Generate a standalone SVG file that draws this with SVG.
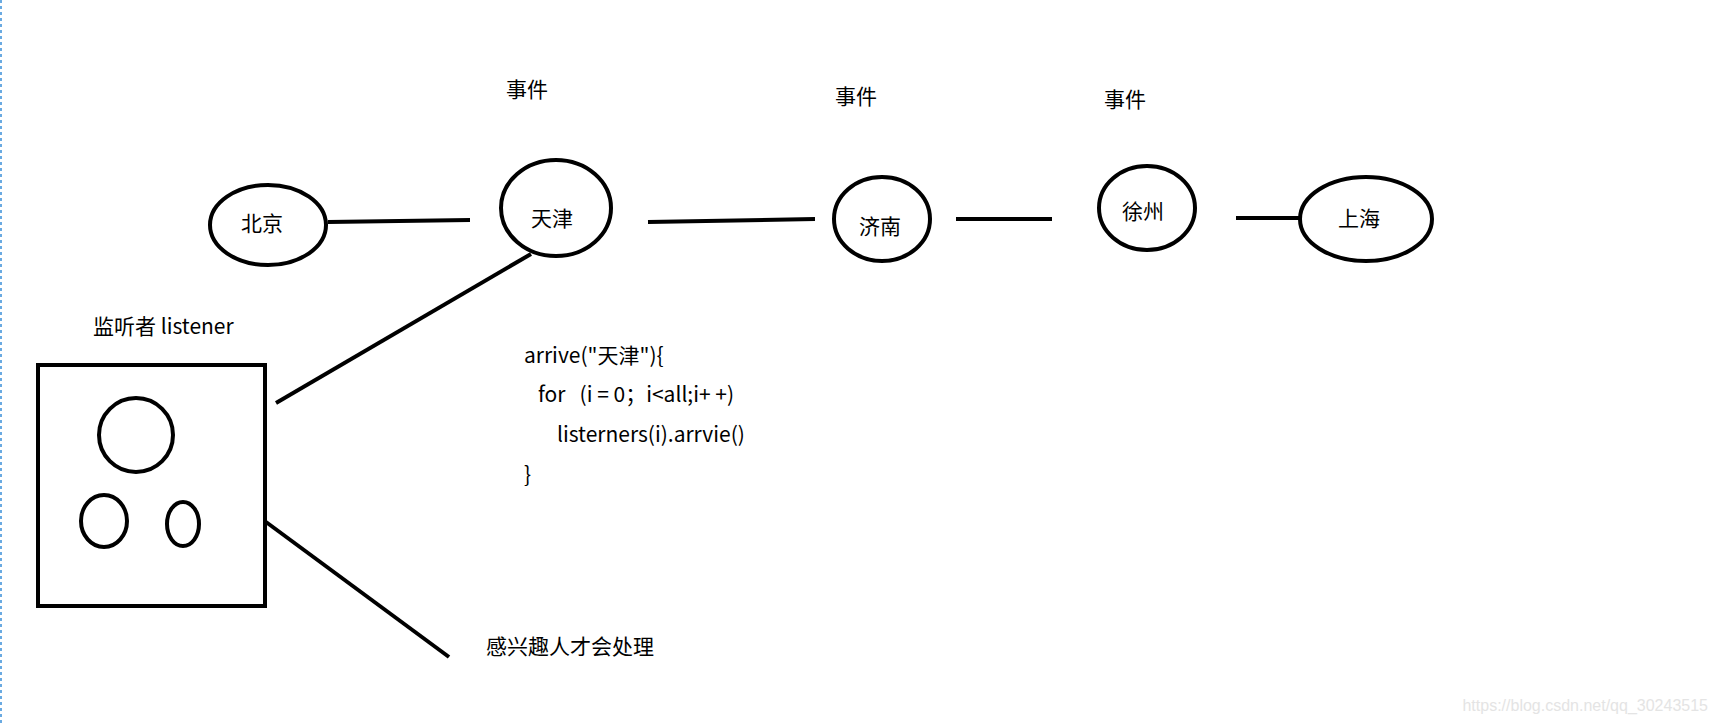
<svg xmlns="http://www.w3.org/2000/svg" width="1716" height="723" viewBox="0 0 1716 723">
<style>
.n{fill:none;stroke:#000;stroke-width:4}
.c{stroke:#000;stroke-width:4;fill:none}
text{font-family:"Noto Sans CJK SC","Noto Sans",sans-serif;font-size:21px;fill:#000}
.m{text-anchor:middle}
</style>
<rect width="1716" height="723" fill="#fff"/>
<line x1="1" y1="0" x2="1" y2="723" stroke="#3a8fd8" stroke-width="1.5" stroke-dasharray="3,3"/>
<g id="connectors">
<line class="c" x1="328" y1="222" x2="470" y2="220"/>
<line class="c" x1="648" y1="222" x2="815" y2="219"/>
<line class="c" x1="956" y1="219" x2="1052" y2="219"/>
<line class="c" x1="1236" y1="218" x2="1302" y2="218"/>
<line class="c" x1="531" y1="254" x2="276" y2="403"/>
<line class="c" x1="266" y1="522" x2="449" y2="657"/>
</g>
<g id="beijing"><ellipse class="n" cx="268" cy="225" rx="58" ry="40"/><text class="m" x="262" y="231">北京</text></g>
<g id="tianjin"><ellipse class="n" cx="556" cy="208" rx="55" ry="48"/><text class="m" x="552" y="226">天津</text></g>
<g id="jinan"><ellipse class="n" cx="882" cy="219" rx="48" ry="42"/><text class="m" x="880" y="234">济南</text></g>
<g id="xuzhou"><ellipse class="n" cx="1147" cy="208" rx="48" ry="42"/><text class="m" x="1143" y="219">徐州</text></g>
<g id="shanghai"><ellipse class="n" cx="1366" cy="219" rx="66" ry="42"/><text class="m" x="1359" y="226">上海</text></g>
<g id="events">
<text x="506" y="97">事件</text>
<text x="835" y="104">事件</text>
<text x="1104" y="107">事件</text>
</g>
<g id="listener">
<text x="93" y="334">监听者 listener</text>
<rect class="n" x="38" y="365" width="227" height="241"/>
<ellipse class="n" cx="136" cy="435" rx="37" ry="37"/>
<ellipse class="n" cx="104" cy="521" rx="23" ry="26"/>
<ellipse class="n" cx="183" cy="524" rx="16" ry="22"/>
</g>
<g id="code">
<text x="524" y="363">arrive("天津"){</text>
<text x="538" y="402" xml:space="preserve">for   (i = 0；i&lt;all;i+ +)</text>
<text x="557" y="442">listerners(i).arrvie()</text>
<text x="524" y="482">}</text>
</g>
<text x="486" y="654">感兴趣人才会处理</text>
<text x="1708" y="711" text-anchor="end" style="font-family:'Liberation Sans',sans-serif;font-size:16px;fill:#e4e4e4">https://blog.csdn.net/qq_30243515</text>
</svg>
